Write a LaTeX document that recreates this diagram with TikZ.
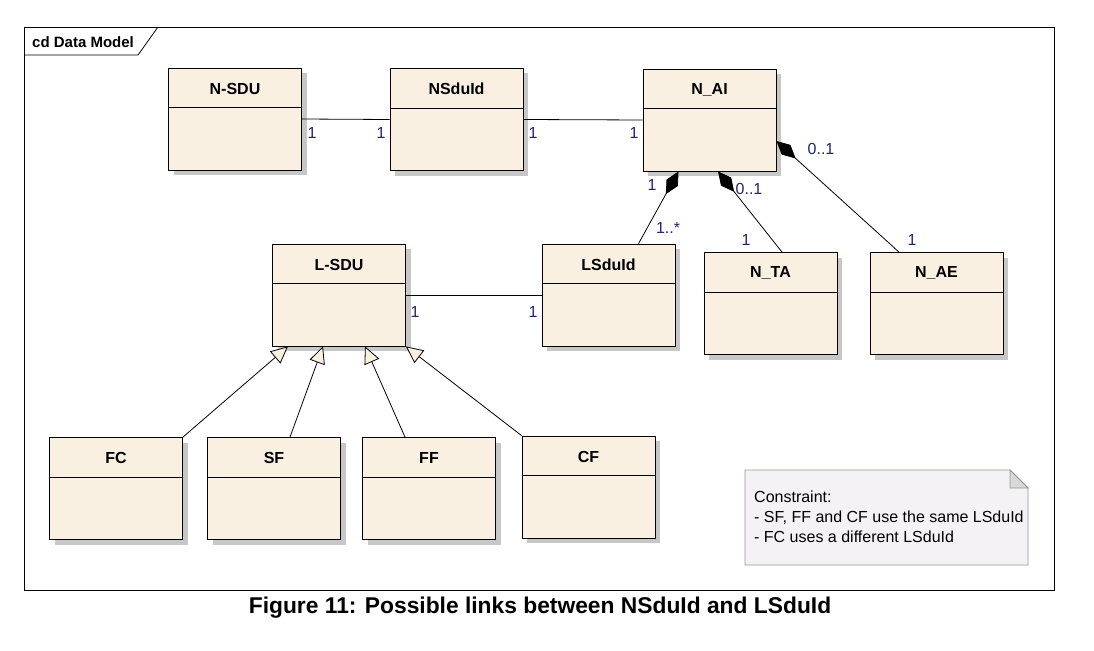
\documentclass[tikz,border=0pt]{standalone}
\usepackage{fontspec}
\setmainfont{Liberation Sans}
\usetikzlibrary{arrows.meta,shadows}
\definecolor{classfill}{RGB}{250,240,226}
\definecolor{notefill}{RGB}{245,242,245}
\definecolor{notegray}{RGB}{150,150,150}
\definecolor{multcol}{RGB}{36,36,110}

\begin{document}
\begin{tikzpicture}[x=1pt,y=-1pt,
    classbox/.style={draw,fill=classfill,line width=0.8pt,minimum width=133pt,minimum height=102pt,inner sep=0pt,
      drop shadow={shadow xshift=5pt,shadow yshift=-5pt,fill=black!22,opacity=1}},
    classname/.style={font=\fontsize{16}{18}\selectfont\bfseries,inner sep=0pt},
    mult/.style={font=\fontsize{16}{18}\selectfont,text=multcol,inner sep=0pt},
    assoc/.style={line width=0.8pt},
    compo/.style={line width=0.8pt,{Diamond[length=26pt,width=13pt]}-},
    gener/.style={line width=0.8pt,-{Triangle[length=17pt,width=16pt,fill=classfill]}}]
  \useasboundingbox (0,0) rectangle (1094,650);

  \draw[line width=0.8pt] (24,27) rectangle (1054,590);
  \draw[line width=0.8pt] (24,55) -- (138,55) -- (158,27);
  \node[classname,font=\fontsize{15}{18}\selectfont\bfseries,anchor=west] (frame) at (32,42) {cd Data Model};

  \node[classbox] (nsdu) at (235,119) {};
  \node[classbox] (nsduid) at (456.5,119.5) {};
  \node[classbox] (nai) at (709.5,120) {};
  \node[classbox] (lsdu) at (339,295) {};
  \node[classbox] (lsduid) at (608.5,295) {};
  \node[classbox] (nta) at (770.5,303.5) {};
  \node[classbox] (nae) at (936.5,303.5) {};
  \node[classbox] (fc) at (116,488.5) {};
  \node[classbox] (sf) at (274,488.5) {};
  \node[classbox] (ff) at (429,488.5) {};
  \node[classbox] (cf) at (588.5,487) {};
  \foreach \c in {nsdu,nsduid,nai,lsdu,lsduid,nta,nae,fc,sf,ff,cf}
    \draw[line width=0.8pt] ([yshift=-40pt]\c.north west) -- ([yshift=-40pt]\c.north east);

  \node[classname] (nsdu-t) at ([yshift=-21pt]nsdu.north) {N-SDU};
  \node[classname] (nsduid-t) at ([yshift=-21pt]nsduid.north) {NSduId};
  \node[classname] (nai-t) at ([yshift=-21pt]nai.north) {N\_AI};
  \node[classname] (lsdu-t) at ([yshift=-21pt]lsdu.north) {L-SDU};
  \node[classname] (lsduid-t) at ([yshift=-21pt]lsduid.north) {LSduId};
  \node[classname] (nta-t) at ([yshift=-21pt]nta.north) {N\_TA};
  \node[classname] (nae-t) at ([yshift=-21pt]nae.north) {N\_AE};
  \node[classname] (fc-t) at ([yshift=-21pt]fc.north) {FC};
  \node[classname] (sf-t) at ([yshift=-21pt]sf.north) {SF};
  \node[classname] (ff-t) at ([yshift=-21pt]ff.north) {FF};
  \node[classname] (cf-t) at ([yshift=-21pt]cf.north) {CF};

  \draw[assoc] (nsdu.east) -- (nsduid.west);
  \draw[assoc] (nsduid.east) -- (nai.west);
  \draw[assoc] (lsdu.east) -- (lsduid.west);

  \draw[compo] ([xshift=-31pt]nai.south) -- ([xshift=30pt]lsduid.north);
  \draw[compo] ([xshift=8.5pt]nai.south) -- ([xshift=11.5pt]nta.north);
  \draw[compo] ([yshift=-21pt]nai.east) -- ([xshift=-37.5pt]nae.north);

  \draw[gener] (fc.north east) -- ([xshift=-51pt]lsdu.south);
  \draw[gener] ([xshift=16pt]sf.north) -- ([xshift=-16pt]lsdu.south);
  \draw[gener] ([xshift=-24pt]ff.north) -- ([xshift=26pt]lsdu.south);
  \draw[gener] (cf.north west) -- (lsdu.south east);

  \node[mult] (m1) at (312,133) {1};
  \node[mult] (m2) at (381,133) {1};
  \node[mult] (m3) at (533,133) {1};
  \node[mult] (m4) at (634,133) {1};
  \node[mult] (m5) at (652,185) {1};
  \node[mult] (m6) at (668,228) {1..*};
  \node[mult] (m7) at (749,189) {0..1};
  \node[mult] (m8) at (746,240) {1};
  \node[mult] (m9) at (821,149) {0..1};
  \node[mult] (m10) at (912,240) {1};
  \node[mult] (m11) at (415,312) {1};
  \node[mult] (m12) at (533,312) {1};

  \draw[notegray,fill=notefill,line width=0.8pt] (745,470) -- (1010,470) -- (1028,488) -- (1028,565) -- (745,565) -- cycle;
  \draw[notegray,fill=black!15,line width=0.8pt] (1010,470) -- (1010,488) -- (1028,488) -- cycle;
  \node[font=\fontsize{16}{20}\selectfont,align=left,anchor=north west,inner sep=0pt] (note) at (754,491)
    {Constraint:\\- SF, FF and CF use the same LSduId\\- FC uses a different LSduId};

  \node[font=\fontsize{22.8}{26}\selectfont\bfseries] (caption) at (540,608)
    {Figure 11: Possible links between NSduId and LSduId};
\end{tikzpicture}
\end{document}
